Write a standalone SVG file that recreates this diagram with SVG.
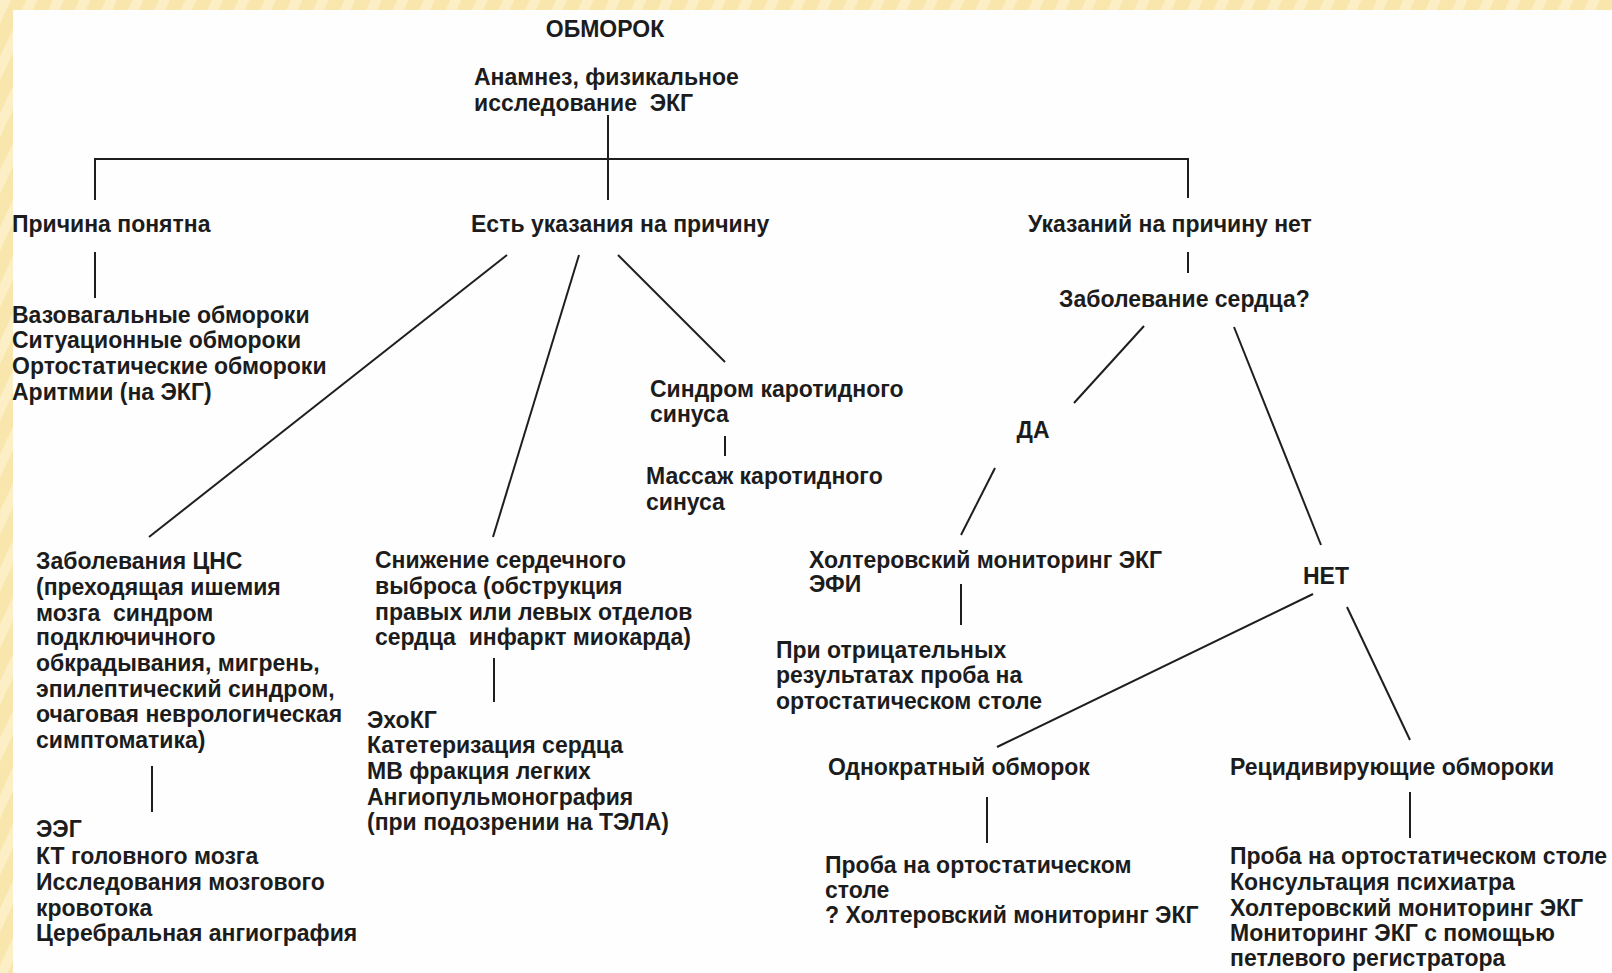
<svg xmlns="http://www.w3.org/2000/svg" width="1612" height="973" viewBox="0 0 1612 973">
<defs>
<pattern id="stripes" width="24" height="24" patternUnits="userSpaceOnUse" patternTransform="rotate(25)">
<rect width="24" height="24" fill="#f8e6ad"/>
<rect width="10" height="24" fill="#fcefc6"/>
</pattern>
<style>
text{font-family:"Liberation Sans","Arial",sans-serif;font-size:23px;font-weight:bold;fill:#1c1c1c;white-space:pre}
.c{stroke:#1e1e1e;stroke-width:2;fill:none}
</style>
</defs>
<rect x="0" y="0" width="1612" height="973" fill="#fefefe"/>
<rect x="0" y="0" width="1612" height="10" fill="url(#stripes)"/>
<rect x="0" y="0" width="13" height="973" fill="url(#stripes)"/>

<g id="connectors">
<line class="c" x1="608" y1="115" x2="608" y2="200"/>
<polyline class="c" points="95,200 95,159 1188,159 1188,198"/>
<line class="c" x1="95" y1="252" x2="95" y2="298"/>
<line class="c" x1="507" y1="255" x2="149" y2="537"/>
<line class="c" x1="579" y1="255" x2="493" y2="537"/>
<line class="c" x1="618" y1="255" x2="725" y2="362"/>
<line class="c" x1="725" y1="436" x2="725" y2="456"/>
<line class="c" x1="152" y1="766" x2="152" y2="812"/>
<line class="c" x1="494" y1="658" x2="494" y2="702"/>
<line class="c" x1="1188" y1="252" x2="1188" y2="273"/>
<line class="c" x1="1144" y1="326" x2="1074" y2="403"/>
<line class="c" x1="995" y1="468" x2="961" y2="535"/>
<line class="c" x1="1234" y1="327" x2="1321" y2="545"/>
<line class="c" x1="961" y1="584" x2="961" y2="625"/>
<line class="c" x1="1313" y1="594" x2="997" y2="747"/>
<line class="c" x1="1347" y1="607" x2="1410" y2="740"/>
<line class="c" x1="987" y1="797" x2="987" y2="843"/>
<line class="c" x1="1410" y1="792" x2="1410" y2="838"/>
</g>

<g id="n-obmorok"><text x="605" y="37" text-anchor="middle">ОБМОРОК</text></g>
<g id="n-anamnez"><text x="474" y="85">Анамнез, физикальное</text><text x="474" y="111">исследование  ЭКГ</text></g>
<g id="n-ponyatna"><text x="12" y="232">Причина понятна</text></g>
<g id="n-est"><text x="471" y="232">Есть указания на причину</text></g>
<g id="n-net-ukaz"><text x="1028" y="232">Указаний на причину нет</text></g>
<g id="n-list1">
<text x="12" y="323">Вазовагальные обмороки</text>
<text x="12" y="348">Ситуационные обмороки</text>
<text x="12" y="374">Ортостатические обмороки</text>
<text x="12" y="400">Аритмии (на ЭКГ)</text>
</g>
<g id="n-karotid"><text x="650" y="397">Синдром каротидного</text><text x="650" y="422">синуса</text></g>
<g id="n-massazh"><text x="646" y="484">Массаж каротидного</text><text x="646" y="510">синуса</text></g>
<g id="n-serdce"><text x="1059" y="307">Заболевание сердца?</text></g>
<g id="n-da"><text x="1033" y="438" text-anchor="middle">ДА</text></g>
<g id="n-net"><text x="1326" y="584" text-anchor="middle">НЕТ</text></g>
<g id="n-holter"><text x="809" y="568">Холтеровский мониторинг ЭКГ</text><text x="809" y="592">ЭФИ</text></g>
<g id="n-otric">
<text x="776" y="658">При отрицательных</text>
<text x="776" y="683">результатах проба на</text>
<text x="776" y="709">ортостатическом столе</text>
</g>
<g id="n-odnokr"><text x="828" y="775">Однократный обморок</text></g>
<g id="n-recid"><text x="1230" y="775">Рецидивирующие обмороки</text></g>
<g id="n-odnokr-list">
<text x="825" y="873">Проба на ортостатическом</text>
<text x="825" y="898">столе</text>
<text x="825" y="923">? Холтеровский мониторинг ЭКГ</text>
</g>
<g id="n-recid-list">
<text x="1230" y="864">Проба на ортостатическом столе</text>
<text x="1230" y="890">Консультация психиатра</text>
<text x="1230" y="916">Холтеровский мониторинг ЭКГ</text>
<text x="1230" y="941">Мониторинг ЭКГ с помощью</text>
<text x="1230" y="966">петлевого регистратора</text>
</g>
<g id="n-cns">
<text x="36" y="569">Заболевания ЦНС</text>
<text x="36" y="595">(преходящая ишемия</text>
<text x="36" y="621">мозга  синдром</text>
<text x="36" y="645">подключичного</text>
<text x="36" y="671">обкрадывания, мигрень,</text>
<text x="36" y="697">эпилептический синдром,</text>
<text x="36" y="722">очаговая неврологическая</text>
<text x="36" y="748">симптоматика)</text>
</g>
<g id="n-cns-list">
<text x="36" y="837">ЭЭГ</text>
<text x="36" y="864">КТ головного мозга</text>
<text x="36" y="890">Исследования мозгового</text>
<text x="36" y="916">кровотока</text>
<text x="36" y="941">Церебральная ангиография</text>
</g>
<g id="n-snizh">
<text x="375" y="568">Снижение сердечного</text>
<text x="375" y="594">выброса (обструкция</text>
<text x="375" y="620">правых или левых отделов</text>
<text x="375" y="645">сердца  инфаркт миокарда)</text>
</g>
<g id="n-snizh-list">
<text x="367" y="728">ЭхоКГ</text>
<text x="367" y="753">Катетеризация сердца</text>
<text x="367" y="779">МВ фракция легких</text>
<text x="367" y="805">Ангиопульмонография</text>
<text x="367" y="830">(при подозрении на ТЭЛА)</text>
</g>
</svg>
